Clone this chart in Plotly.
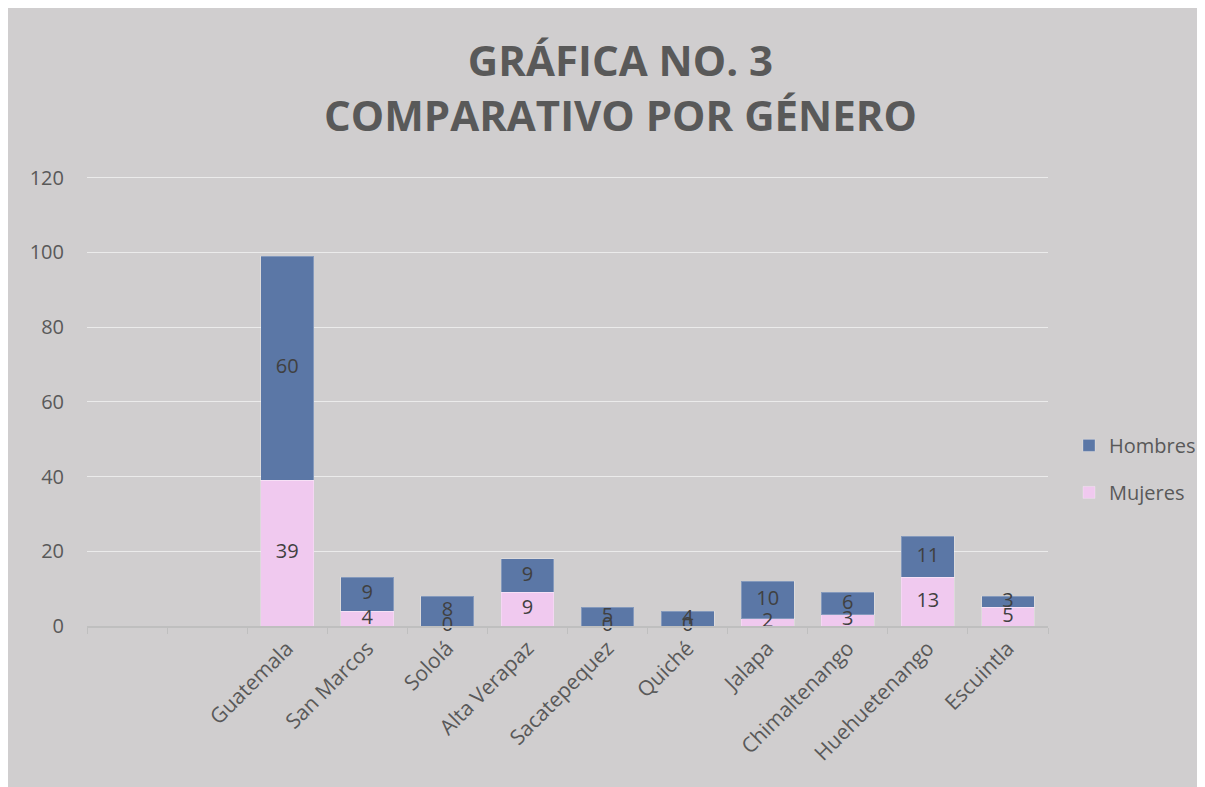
import plotly.graph_objects as go

categories = [" ", "  ", "Guatemala", "San Marcos", "Sololá", "Alta Verapaz", "Sacatepequez",
              "Quiché", "Jalapa", "Chimaltenango", "Huehuetenango", "Escuintla"]
mujeres = [None, None, 39, 4, 0, 9, 0, 0, 2, 3, 13, 5]
hombres = [None, None, 60, 9, 8, 9, 5, 4, 10, 6, 11, 3]
y_ticks = [0, 20, 40, 60, 80, 100, 120]
y_max = 121

# figure sits at page offset (8, 8)
W, H = 1197, 779
L, R, B = 79, 1040, 618
unit = 448 / 120
T = B - unit * y_max
pw, ph = R - L, B - T

def px_x(p):
    return (p - L) / pw

def px_y(p):
    return (B - p) / ph

c_h = "#5b77a6"
c_m = "#f0c9ef"
txt = "#595959"
lab = "#404040"
font = "Open Sans"

fig = go.Figure()
fig.add_trace(go.Bar(x=categories, y=mujeres, name="Mujeres", marker_color=c_m,
                     marker_line=dict(color="rgba(255,255,255,0.25)", width=1),
                     legendgroup="m", legendrank=2, hoverinfo="skip"))
fig.add_trace(go.Bar(x=categories, y=hombres, name="Hombres", marker_color=c_h,
                     marker_line=dict(color="rgba(255,255,255,0.25)", width=1),
                     legendgroup="h", legendrank=1, hoverinfo="skip"))

# data labels at segment centres
mx, my, mt, hx, hy, ht = [], [], [], [], [], []
for c, m, h in zip(categories, mujeres, hombres):
    if m is None:
        continue
    mx.append(c); my.append(m / 2); mt.append(str(m))
    hx.append(c); hy.append(m + h / 2); ht.append(str(h))
fig.add_trace(go.Scatter(x=mx, y=my, text=mt, mode="text", showlegend=False,
                         textfont=dict(family=font, size=20, color=lab), cliponaxis=False,
                         hoverinfo="skip"))
fig.add_trace(go.Scatter(x=hx, y=hy, text=ht, mode="text", showlegend=False,
                         textfont=dict(family=font, size=20, color=lab), cliponaxis=False,
                         hoverinfo="skip"))

fig.update_layout(
    width=W, height=H,
    margin=dict(l=L, r=W - R, t=T, b=H - B, autoexpand=False),
    paper_bgcolor="#d0cecf",
    plot_bgcolor="rgba(0,0,0,0)",
    barmode="stack",
    bargap=0.34,
    font=dict(family=font, color=txt, size=20),
    showlegend=True,
    legend=dict(x=px_x(1061), y=px_y(418), xanchor="left", yanchor="top",
                traceorder="grouped", tracegroupgap=18,
                font=dict(family=font, size=20, color=txt),
                bgcolor="rgba(0,0,0,0)", itemwidth=30),
    xaxis=dict(type="category", categoryorder="array", categoryarray=categories,
               range=[-0.5, len(categories) - 0.5],
               tickangle=-45, tickfont=dict(family=font, size=21, color=txt),
               showline=True, linecolor="#bfbfbf", linewidth=1.5,
               ticks="outside", tickson="boundaries", ticklen=6, tickcolor="#bfbfbf",
               showgrid=False),
    yaxis=dict(range=[0, y_max], tickvals=y_ticks, showgrid=True, gridcolor="#ebebeb",
               gridwidth=1.3, zeroline=False, showline=False,
               tickfont=dict(family=font, size=20, color=txt), ticklabelstandoff=22),
    annotations=[dict(text="<b>GRÁFICA NO. 3<br>COMPARATIVO POR GÉNERO</b>",
                      xref="paper", yref="paper", x=px_x(612), y=px_y(79),
                      xanchor="center", yanchor="middle", showarrow=False,
                      font=dict(family=font, size=42, color=txt))],
)

fig.write_html("out.html")
